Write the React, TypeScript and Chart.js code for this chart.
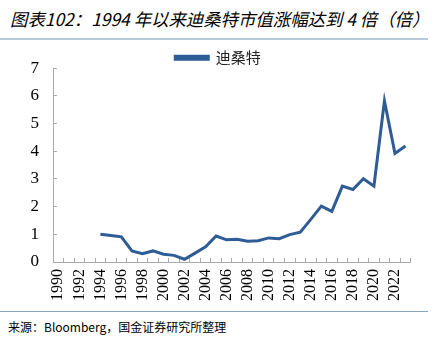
import React, { useEffect, useRef } from "react";
import { Chart, registerables } from "chart.js";

Chart.register(...registerables);

const years: string[] = [];
for (let y = 1990; y <= 2023; y++) years.push(String(y));

const descenteValues: (number | null)[] = [
  null, null, null, null,
  1.0, 0.96, 0.91, 0.40, 0.30, 0.40, 0.28, 0.24, 0.10, 0.32, 0.55, 0.94,
  0.80, 0.82, 0.75, 0.77, 0.87, 0.84, 0.99, 1.08, 1.54, 2.02, 1.83, 2.74,
  2.62, 3.01, 2.74, 5.82, 3.92, 4.19,
];

const seriesName = "迪桑特";
const titleText = "图表102：1994 年以来迪桑特市值涨幅达到 4 倍（倍）";
const sourceText = "来源：Bloomberg，国金证券研究所整理";

// Trims Chart.js' fixed extra legend spacing so the plot starts closer below it.
const legendHeightPlugin = {
  id: "legendHeight",
  beforeLayout(chart: any) {
    const lg = chart.legend;
    if (lg && !lg.__patched) {
      const orig = lg.fit;
      lg.fit = function (this: any) {
        orig.call(this);
        this.height = 20;
        this.bottom = this.top + this.height;
      };
      lg.__patched = true;
    }
  },
};

export default function App() {
  const ref = useRef<HTMLCanvasElement | null>(null);

  useEffect(() => {
    if (!ref.current) return;
    const chart = new Chart(ref.current, {
      type: "line",
      data: {
        labels: years,
        datasets: [
          {
            label: seriesName,
            data: descenteValues,
            borderColor: "#2E5C96",
            backgroundColor: "#2E5C96",
            borderWidth: 3,
            pointRadius: 0,
            tension: 0,
            spanGaps: false,
          },
        ],
      },
      plugins: [legendHeightPlugin],
      options: {
        responsive: false,
        animation: false,
        devicePixelRatio: 1,
        layout: { padding: { left: 21, right: 21, top: 8, bottom: 0 } },
        plugins: {
          tooltip: { enabled: false },
          legend: {
            display: true,
            position: "top",
            labels: {
              boxWidth: 33,
              boxHeight: 3,
              padding: 2,
              color: "#222",
              font: { family: "'Noto Sans CJK SC'", size: 15 },
            },
          },
        },
        scales: {
          x: {
            offset: true,
            grid: {
              offset: true,
              drawOnChartArea: false,
              drawTicks: true,
              tickLength: -4,
              color: "#aaa",
            },
            border: { color: "#aaa" },
            ticks: {
              autoSkip: false,
              minRotation: 90,
              maxRotation: 90,
              padding: 11,
              color: "#000",
              font: { family: "'Liberation Serif'", size: 16 },
              callback: (_v: any, i: number) => (i % 2 === 0 ? years[i] : ""),
            },
            afterFit: (s: any) => {
              s.height = 48;
            },
          },
          y: {
            min: 0,
            max: 7,
            ticks: {
              stepSize: 1,
              padding: 18,
              color: "#000",
              font: { family: "'Liberation Serif'", size: 17 },
            },
            grid: {
              drawOnChartArea: false,
              drawTicks: true,
              tickLength: -4,
              color: "#aaa",
            },
            border: { color: "#aaa" },
            afterFit: (s: any) => {
              s.width = 32;
            },
          },
        },
      },
    });
    return () => chart.destroy();
  }, []);

  return (
    <div
      style={{
        position: "fixed",
        left: 0,
        top: 0,
        width: 436,
        height: 350,
        background: "#fff",
      }}
    >
      <div
        style={{
          position: "absolute",
          left: 10,
          top: 7,
          fontFamily: "'Noto Sans CJK SC'",
          fontStyle: "italic",
          fontSize: 17.4,
          lineHeight: "24px",
          color: "#000",
          whiteSpace: "nowrap",
        }}
      >
        {titleText}
      </div>
      <div
        style={{
          position: "absolute",
          left: 0,
          top: 38,
          width: 428,
          height: 2,
          background: "#b8cad9",
        }}
      />
      <canvas
        ref={ref}
        width={436}
        height={270}
        style={{ position: "absolute", left: 0, top: 40, width: 436, height: 270 }}
      />
      <div
        style={{
          position: "absolute",
          left: 0,
          top: 311,
          width: 428,
          height: 1,
          background: "#8aa5bd",
        }}
      />
      <div
        style={{
          position: "absolute",
          left: 8,
          top: 318,
          fontFamily: "'Noto Sans CJK SC'",
          fontSize: 12,
          lineHeight: "18px",
          color: "#000",
          whiteSpace: "nowrap",
        }}
      >
        {sourceText}
      </div>
    </div>
  );
}
